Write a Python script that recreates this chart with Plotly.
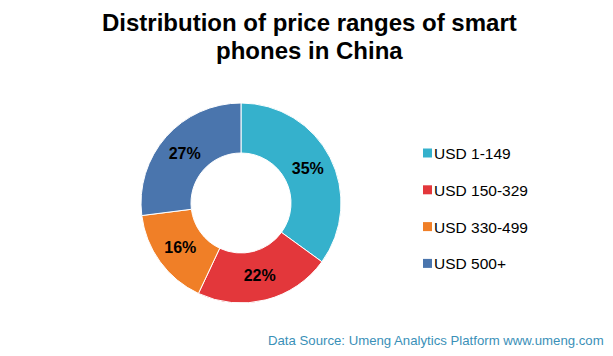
import plotly.graph_objects as go

categories = ["USD 1-149", "USD 150-329", "USD 330-499", "USD 500+"]
shares = [35, 22, 16, 27]
colors = ["#35b1cc", "#e3373b", "#f07f27", "#4a75ad"]
title_lines = ["Distribution of price ranges of smart", "phones in China"]
source = "Data Source: Umeng Analytics Platform www.umeng.com"

W, H = 613, 356
FONT = "Liberation Sans, Arial, sans-serif"

fig = go.Figure(go.Pie(
    labels=categories,
    values=shares,
    sort=False,
    direction="clockwise",
    rotation=0,
    hole=0.5,
    marker=dict(colors=colors, line=dict(color="white", width=1)),
    textinfo="percent",
    texttemplate="<b>%{value}%</b>",
    textposition="inside",
    insidetextorientation="horizontal",
    textfont=dict(family=FONT, size=16, color="black"),
    domain=dict(x=[141 / W, 341 / W], y=[(H - 303) / H, (H - 103) / H]),
    showlegend=False,
    hoverinfo="label+percent",
))

shapes = []
annotations = []
leg_x0 = 423
leg_y0 = 153
leg_dy = 36.8
for i, (cat, col) in enumerate(zip(categories, colors)):
    yc = leg_y0 + i * leg_dy
    shapes.append(dict(type="rect", xref="paper", yref="paper",
                       x0=leg_x0 / W, x1=(leg_x0 + 9) / W,
                       y0=1 - (yc + 4.5) / H, y1=1 - (yc - 4.5) / H,
                       fillcolor=col, line=dict(width=0)))
    annotations.append(dict(text=cat, xref="paper", yref="paper",
                            x=(leg_x0 + 9) / W, y=1 - (yc + 0.5) / H,
                            xanchor="left", yanchor="middle", showarrow=False,
                            font=dict(family=FONT, size=15.5, color="black")))

for i, line in enumerate(title_lines):
    annotations.append(dict(
        text="<b>" + line + "</b>",
        xref="paper", yref="paper", x=309 / W, y=1 - (22 + 28 * i) / H,
        xanchor="center", yanchor="middle", showarrow=False,
        font=dict(family=FONT, size=24, color="black")))

annotations.append(dict(
    text=source,
    xref="paper", yref="paper", x=606 / W, y=1 - 340 / H,
    xanchor="right", yanchor="middle", showarrow=False,
    font=dict(family=FONT, size=13.2, color="#3a90b8")))

fig.update_layout(
    width=W, height=H,
    margin=dict(l=0, r=0, t=0, b=0),
    paper_bgcolor="white", plot_bgcolor="white",
    shapes=shapes, annotations=annotations,
)

fig.write_html("out.html", config={"displayModeBar": False})

with open("out.html", "r", encoding="utf-8") as f:
    html = f.read()
html = html.replace("<head>", "<head><style>html,body{margin:0;padding:0;overflow:hidden;}</style>", 1)
with open("out.html", "w", encoding="utf-8") as f:
    f.write(html)
